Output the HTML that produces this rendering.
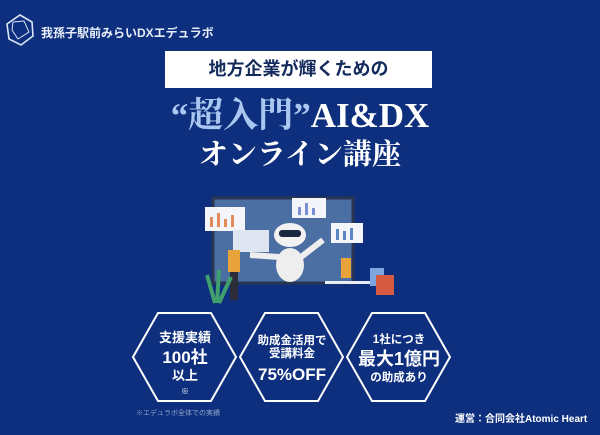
<!DOCTYPE html>
<html><head><meta charset="utf-8"><style>
*{margin:0;padding:0;box-sizing:border-box}
body{width:600px;height:435px;background:#0d2f7e;position:relative;overflow:hidden;font-family:"Liberation Sans","Noto Sans CJK JP",sans-serif;color:#fff}
.abs{position:absolute}
.serif{font-family:"Liberation Serif","Noto Serif CJK SC",serif;font-weight:bold}
.hex{position:absolute;top:312px;width:104px;height:90px}
.hext{position:absolute;left:0;width:100%;text-align:center;font-weight:bold;line-height:1.15}
</style></head><body>
<svg class="abs" style="left:4px;top:12px" width="32" height="36" viewBox="0 0 32 36"><polygon points="16,3 28,10 29,24 17,33 5,27 3,12" fill="none" stroke="#dde6f5" stroke-width="1.6"/><polyline points="9,10 20,9 25,20 14,27 8,18 9,10" fill="none" stroke="#dde6f5" stroke-width="1"/></svg>
<div class="abs" style="left:41px;top:24px;font-size:12px;font-weight:bold;color:#e8eef8">我孫子駅前みらいDXエデュラボ</div>
<div class="abs" style="left:165px;top:51px;width:267px;height:37px;background:#fff;color:#132a5c;font-size:18px;font-weight:bold;text-align:center;line-height:37px">地方企業が輝くための</div>
<div class="abs serif" style="left:0;width:600px;top:96px;text-align:center;font-size:35px;line-height:40px"><span style="color:#a9c7f0">“超入門”</span>AI&amp;DX</div>
<div class="abs serif" style="left:0;width:600px;top:138px;text-align:center;font-size:29px;line-height:34px">オンライン講座</div>
<svg class="abs" style="left:195px;top:185px" width="220" height="125" viewBox="0 0 220 125">
<rect x="18" y="13" width="140" height="85" fill="#4b6fa3" stroke="#2a3550" stroke-width="3"/>
<rect x="10" y="22" width="40" height="24" fill="#f3f5fa"/><g fill="#e28b5a"><rect x="15" y="32" width="3" height="10"/><rect x="22" y="28" width="3" height="14"/><rect x="29" y="34" width="3" height="8"/><rect x="36" y="30" width="3" height="12"/></g>
<rect x="97" y="13" width="34" height="20" fill="#f3f5fa"/><g fill="#7a8fd0"><rect x="103" y="22" width="3" height="8"/><rect x="110" y="18" width="3" height="12"/><rect x="117" y="23" width="3" height="7"/></g>
<rect x="136" y="38" width="32" height="20" fill="#f3f5fa"/><g fill="#5a86c4"><rect x="141" y="44" width="3" height="11"/><rect x="148" y="46" width="3" height="9"/><rect x="155" y="43" width="3" height="12"/></g>
<rect x="38" y="45" width="36" height="22" fill="#dfe6f2"/>
<ellipse cx="95" cy="50" rx="16" ry="12" fill="#f2f2f2"/><rect x="84" y="45" width="22" height="7" rx="3" fill="#1c2740"/>
<ellipse cx="95" cy="80" rx="14" ry="17" fill="#eeeeee"/>
<path d="M84 72 L55 70 M106 72 L128 55" stroke="#eee" stroke-width="6"/>
<rect x="33" y="65" width="12" height="22" fill="#e8a33a"/><rect x="35" y="87" width="8" height="28" fill="#2d2d3a"/>
<rect x="146" y="73" width="10" height="20" fill="#e8a33a"/><rect x="130" y="96" width="50" height="3" fill="#e8eef5"/>
<rect x="175" y="83" width="14" height="18" fill="#7ea7e0"/><rect x="181" y="90" width="18" height="20" fill="#d65a3f"/>
<path d="M20 118 L12 90 M22 118 L24 85 M24 118 L36 92" stroke="#3f9f6d" stroke-width="4"/>
</svg>
<svg class="abs" style="left:0;top:0" width="600" height="435">
<g fill="none" stroke="#fff" stroke-width="2">
<polygon points="133,357 158,313 211,313 236,357 211,401 158,401"/>
<polygon points="240,357 265,313 318,313 343,357 318,401 265,401"/>
<polygon points="347,357 372,313 425,313 450,357 425,401 372,401"/>
</g></svg>
<div class="hex" style="left:133px">
<div class="hext" style="top:19px;font-size:13px">支援実績</div>
<div class="hext" style="top:36px;font-size:17px">100社</div>
<div class="hext" style="top:57px;font-size:13px">以上</div>
<div class="hext" style="top:75px;font-size:8px">※</div></div>
<div class="hex" style="left:240px">
<div class="hext" style="top:23px;font-size:11.5px">助成金活用で<br>受講料金</div>
<div class="hext" style="top:53px;font-size:17px">75%OFF</div></div>
<div class="hex" style="left:347px">
<div class="hext" style="top:22px;font-size:11.5px">1社につき</div>
<div class="hext" style="top:37px;font-size:18px">最大1億円</div>
<div class="hext" style="top:60px;font-size:11.5px">の助成あり</div></div>
<div class="abs" style="left:136px;top:408px;font-size:7px;color:#8fa3cc">※エデュラボ全体での実績</div>
<div class="abs" style="left:455px;top:410px;font-size:10px;font-weight:bold">運営：合同会社Atomic Heart</div>
</body></html>
